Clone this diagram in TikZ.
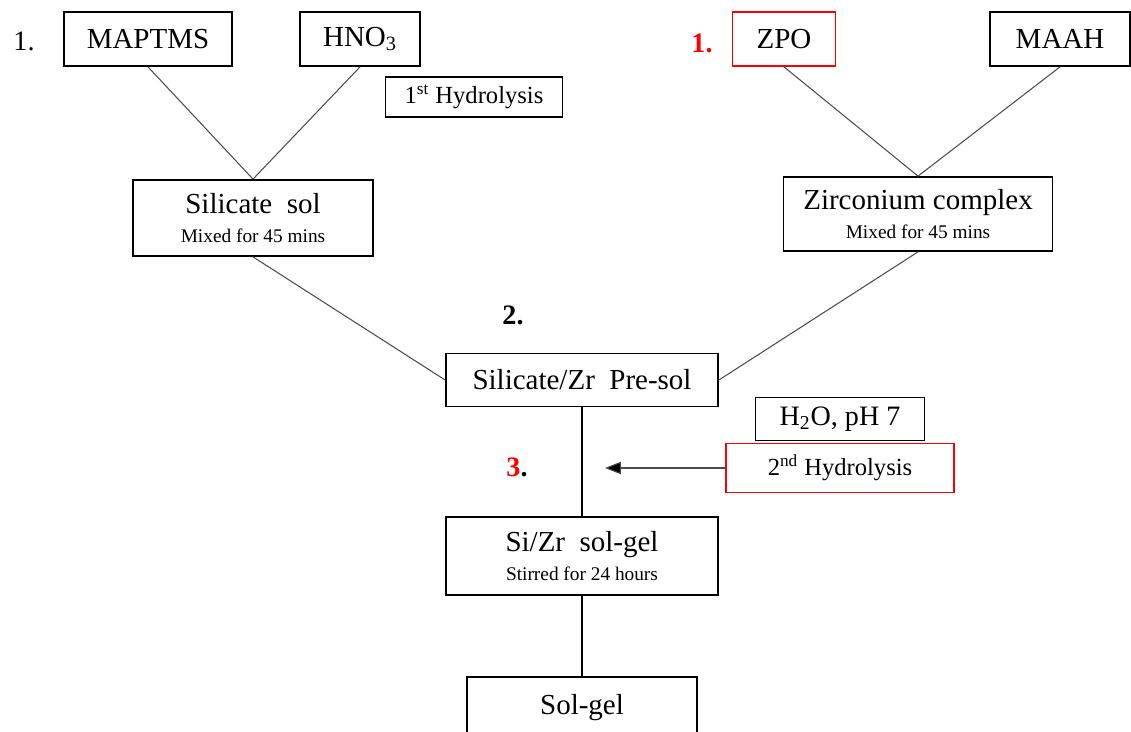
\documentclass[tikz,border=0pt]{standalone}
\usepackage{fontspec}
\setmainfont{Liberation Serif}
\usetikzlibrary{arrows.meta}
\tikzset{
    stepbox/.style={draw,line width=1pt,fill=white,inner sep=0pt,align=center},
    twoline/.style={stepbox,font=\fontsize{16.5}{16}\selectfont},
    link/.style={draw=black!70,line width=0.6pt},
    big/.style={font=\fontsize{16.5}{19}\selectfont},
    tag/.style={font=\fontsize{16}{19}\selectfont},
}
\newcommand{\smtxt}[1]{{\fontsize{11}{13}\selectfont #1}}
\begin{document}
\begin{tikzpicture}[x=0.02cm,y=-0.02cm]
    \useasboundingbox (0,0) rectangle (1131,731);
    %% Silicate branch
    \node[stepbox,big,minimum width=168*0.02cm,minimum height=54*0.02cm] (maptms) at (148,39) {MAPTMS};
    \node[stepbox,big,minimum width=120*0.02cm,minimum height=54*0.02cm] (hno) at (360,39) {HNO\textsubscript{3}};
    \node[stepbox,font=\fontsize{14}{16}\selectfont,minimum width=177*0.02cm,minimum height=40*0.02cm] (hyd1) at (474,97) {1\textsuperscript{st} Hydrolysis};
    \node[twoline,minimum width=240*0.02cm,minimum height=76*0.02cm] (sil) at (253,218) {Silicate\ \ sol\\\smtxt{Mixed for 45 mins}};
    \node[tag] (one) at (24,41) {1.};
    %% Zirconium branch
    \node[stepbox,big,draw=red,minimum width=103*0.02cm,minimum height=54*0.02cm] (zpo) at (784,39) {ZPO};
    \node[stepbox,big,minimum width=140*0.02cm,minimum height=54*0.02cm] (maah) at (1060,39) {MAAH};
    \node[twoline,minimum width=269*0.02cm,minimum height=74*0.02cm] (zrc) at (918,214) {Zirconium complex\\\smtxt{Mixed for 45 mins}};
    \node[tag,text=red,font=\bfseries\fontsize{16}{19}\selectfont] (onered) at (702,43) {1.};
    %% Mixing
    \node[tag,font=\bfseries\fontsize{16}{19}\selectfont] (two) at (513,315) {2.};
    \node[stepbox,big,minimum width=272*0.02cm,minimum height=53*0.02cm] (presol) at (582,380) {Silicate/Zr\ \ Pre-sol};
    \node[stepbox,tag,minimum width=169*0.02cm,minimum height=43*0.02cm] (water) at (840,419) {H\textsubscript{2}O, pH 7};
    \node[stepbox,draw=red,font=\fontsize{14}{16}\selectfont,minimum width=228*0.02cm,minimum height=49*0.02cm] (hyd2) at (840,468) {2\textsuperscript{nd} Hydrolysis};
    \node[tag,font=\bfseries\fontsize{16}{19}\selectfont] (three) at (517,467) {\textcolor{red}{3}.};
    \coordinate (tip) at (605,468);
    \node[twoline,minimum width=272*0.02cm,minimum height=78*0.02cm] (solgel) at (582,556) {Si/Zr\ \ sol-gel\\\smtxt{Stirred for 24 hours}};
    \node[stepbox,big,minimum width=230*0.02cm,minimum height=62*0.02cm] (final) at (582,708) {Sol-gel};
    %% Connectors
    \draw[link] (maptms.south) -- (sil.north);
    \draw[link] (hno.south) -- (sil.north);
    \draw[link] (zpo.south) -- (zrc.north);
    \draw[link] (maah.south) -- (zrc.north);
    \draw[link] (sil.south) -- (presol.west);
    \draw[link] (zrc.south) -- (presol.east);
    \draw[link,black] (presol.south) -- (solgel.north);
    \draw[link,black] (solgel.south) -- (final.north);
    \draw[link,-{Triangle[length=9pt,width=7pt,fill=black]}] (hyd2.west) -- (tip);
\end{tikzpicture}
\end{document}
